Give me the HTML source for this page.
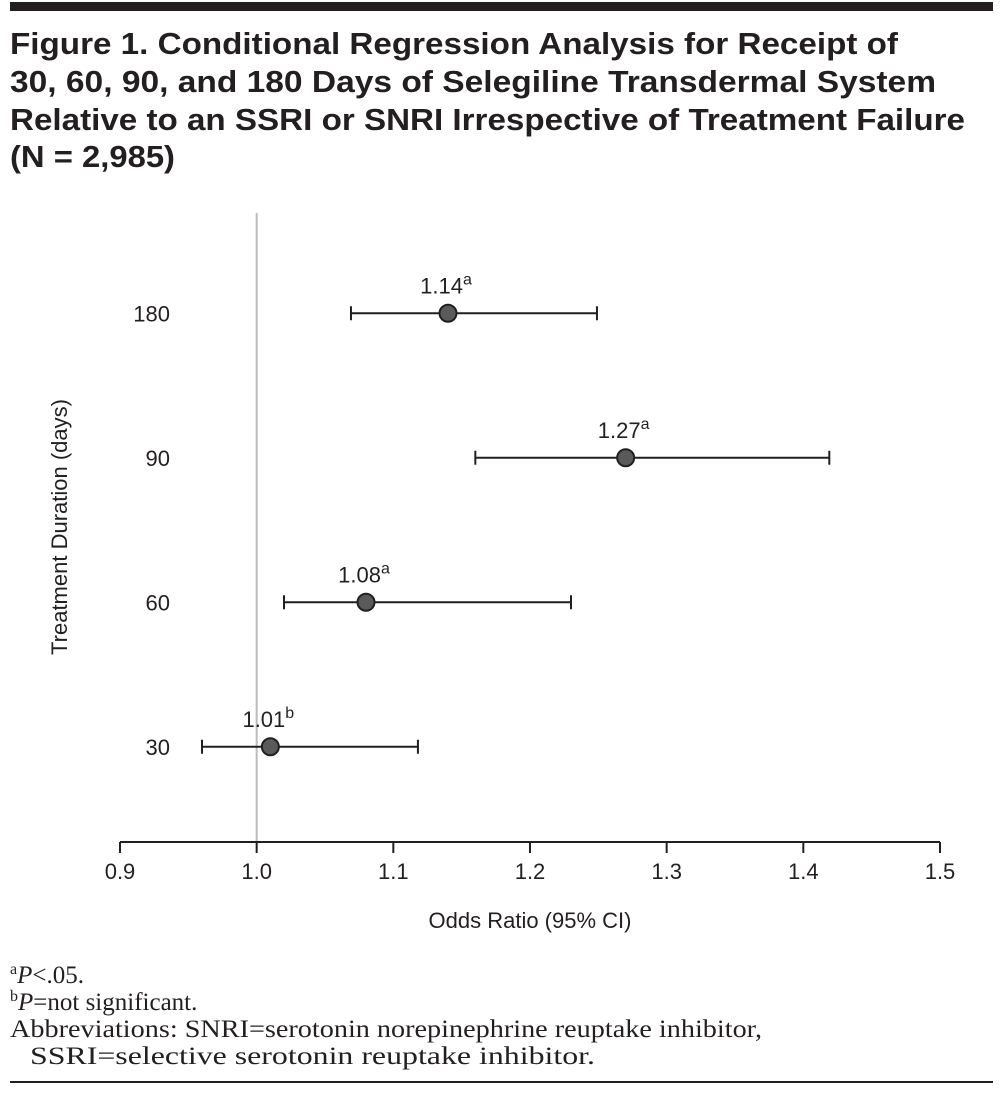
<!DOCTYPE html>
<html><head><meta charset="utf-8"><style>
html,body{margin:0;padding:0;background:#fff;}
svg{display:block;}
</style></head><body>
<svg width="1003" height="1116" xmlns="http://www.w3.org/2000/svg" font-family="Liberation Sans, sans-serif">
<rect x="10" y="2" width="983" height="9" fill="#231f20"/>
<g font-weight="bold" font-size="31" fill="#231f20">
<text x="10" y="54" textLength="888" lengthAdjust="spacingAndGlyphs">Figure 1. Conditional Regression Analysis for Receipt of</text>
<text x="10" y="92" textLength="926" lengthAdjust="spacingAndGlyphs">30, 60, 90, and 180 Days of Selegiline Transdermal System</text>
<text x="10" y="130" textLength="955" lengthAdjust="spacingAndGlyphs">Relative to an SSRI or SNRI Irrespective of Treatment Failure</text>
<text x="10" y="167" textLength="165" lengthAdjust="spacingAndGlyphs">(N = 2,985)</text>
</g>
<g id="chart"></g>
<g font-family="Liberation Serif, serif" font-size="25" fill="#231f20">
<text x="10" y="983"><tspan font-size="16" dy="-9">a</tspan><tspan dy="9" font-style="italic">P</tspan>&lt;.05.</text>
<text x="10" y="1010"><tspan font-size="16" dy="-9">b</tspan><tspan dy="9" font-style="italic">P</tspan>=not significant.</text>
<text x="10" y="1037" textLength="752" lengthAdjust="spacingAndGlyphs">Abbreviations: SNRI=serotonin norepinephrine reuptake inhibitor,</text>
<text x="30" y="1064" textLength="565" lengthAdjust="spacingAndGlyphs">SSRI=selective serotonin reuptake inhibitor.</text>
</g>
<rect x="10" y="1081" width="983" height="2" fill="#231f20"/>
</svg>
<script>
const categories = ["180","90","60","30"];
const oddsRatios = [1.14,1.27,1.08,1.01];
const lowerCI = [1.069,1.16,1.02,0.96];
const upperCI = [1.249,1.419,1.23,1.118];
const labels = ["1.14","1.27","1.08","1.01"];
const sigMarks = ["a","a","a","b"];
const xTicks = [0.9,1.0,1.1,1.2,1.3,1.4,1.5];

const NS="http://www.w3.org/2000/svg";
const g=document.getElementById('chart');
const x0=120,x1=940,dmin=0.9,dmax=1.5;
const xs=v=>x0+(v-dmin)/(dmax-dmin)*(x1-x0);
const yTop=241,yStep=144.5;
const ys=i=>yTop+(i+0.5)*yStep;
function mk(t,a){const e=document.createElementNS(NS,t);for(const k in a)e.setAttribute(k,a[k]);g.appendChild(e);return e;}
let e;
e=mk('line',{x1:xs(1),x2:xs(1),y1:213,y2:842,stroke:'#bbb','stroke-width':2});


e=mk('line',{x1:x0,x2:x1,y1:842,y2:842,stroke:'#231f20','stroke-width':2});


xTicks.forEach(v=>{
  e=mk('line',{x1:xs(v),x2:xs(v),y1:842,y2:853,stroke:'#231f20','stroke-width':2});
  
  
  e=mk('text',{x:xs(v),y:879,'text-anchor':'middle','font-size':22,fill:'#231f20'});
  e.textContent=v.toFixed(1);
  
  
});
e=mk('text',{x:530,y:928,'text-anchor':'middle','font-size':22,fill:'#231f20'});
e.textContent='Odds Ratio (95% CI)';


e=mk('text',{x:0,y:0,'text-anchor':'middle','font-size':22,fill:'#231f20',transform:'translate(67,527) rotate(-90)'});
e.textContent='Treatment Duration (days)';


categories.forEach((c,i)=>{
  const y=ys(i);
  e=mk('text',{x:170,y:y+8,'text-anchor':'end','font-size':22,fill:'#231f20'});
  e.textContent=c;
  
  
  e=mk('line',{x1:xs(lowerCI[i]),x2:xs(upperCI[i]),y1:y,y2:y,stroke:'#231f20','stroke-width':2});
  
  
  [lowerCI[i],upperCI[i]].forEach(v=>{
    e=mk('line',{x1:xs(v),x2:xs(v),y1:y-7,y2:y+7,stroke:'#231f20','stroke-width':2});
    
    
  });
  e=mk('circle',{cx:xs(oddsRatios[i]),cy:y,r:8.5,fill:'#5a5a5a',stroke:'#231f20','stroke-width':2});
  
  
  e=mk('text',{x:xs(oddsRatios[i])-2,y:y-20,'text-anchor':'middle','font-size':22,fill:'#231f20'});
  e.innerHTML=labels[i]+'<tspan font-size="16" dy="-9">'+sigMarks[i]+'</tspan>';
  
  
});
</script>
</body></html>
